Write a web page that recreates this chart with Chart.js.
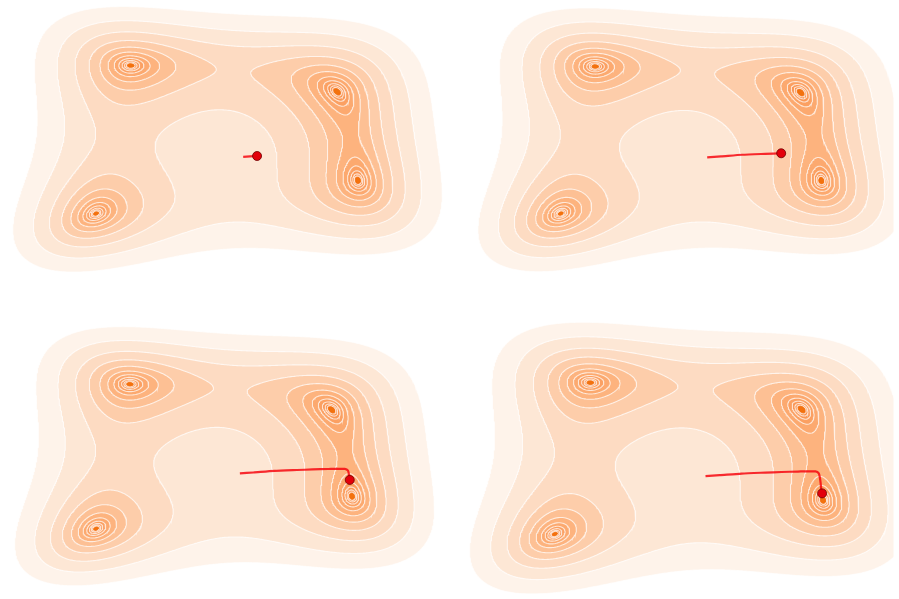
<!DOCTYPE html>
<html>
<head>
<meta charset="utf-8">
<title>Gradient descent on the Himmelblau surface</title>
<script src="https://cdn.jsdelivr.net/npm/chart.js@4.4.1/dist/chart.umd.min.js"></script>
<style>
  html, body { margin: 0; padding: 0; background: #ffffff; }
  #stage { position: relative; width: 899px; height: 599px; overflow: hidden; }
  .panel { position: absolute; }
</style>
</head>
<body>
<div id="stage">
  <div class="panel" style="left:0px;top:0px;width:460px;height:300px"><canvas id="panel-0"></canvas></div>
  <div class="panel" style="left:455px;top:0px;width:444px;height:300px"><canvas id="panel-1"></canvas></div>
  <div class="panel" style="left:0px;top:300px;width:460px;height:299px"><canvas id="panel-2"></canvas></div>
  <div class="panel" style="left:455px;top:300px;width:444px;height:299px"><canvas id="panel-3"></canvas></div>
</div>
<script>
// Contour levels of the surface (powers of two)
const levels = [0.25, 0.5, 1, 2, 4, 8, 16, 32, 64, 128, 256, 512];

// Optimiser path (red), same run shown at four moments
const pathX = [0.36, 0.75, 1.35, 2.0, 2.45, 2.9, 3.38, 3.47, 3.50, 3.52, 3.54, 3.56];
const pathY = [-0.83, -0.79, -0.72, -0.68, -0.655, -0.635, -0.63, -0.71, -0.90, -1.12, -1.42, -1.56];
const pathEnd = [1, 4, 9, 11];

// Axis ranges of each panel
const xMin = [-6.323, -6.609, -6.381, -6.367];
const xMax = [6.301, 5.623, 6.533, 5.521];
const yMin = [-6.791, -6.815, -6.161, -5.799];
const yMax = [5.730, 5.790, 6.623, 6.395];

// Band fill colours, index matches levels (region below that level)
const bandColors = [
  '#f3720f', '#f8863a', '#f98f4a', '#fa9756', '#fba062', '#fca96f',
  '#fdb37e', '#fdc094', '#fdcdaa', '#fddbc2', '#fde7d5', '#fef3ea'
];
const contourLine = 'rgba(255, 255, 255, 0.72)';

// Himmelblau function
function surface(x, y) {
  const a = x * x + y - 11;
  const b = x + y * y - 7;
  return a * a + b * b;
}

// 1. Sample sqrt(f) on a grid (sqrt keeps the wells close to linear)
const GRID_N = 351, GRID_LO = -7, GRID_HI = 7;
const GRID_STEP = (GRID_HI - GRID_LO) / (GRID_N - 1);
const gridValues = new Float64Array(GRID_N * GRID_N);
for (let j = 0; j < GRID_N; j++) {
  for (let i = 0; i < GRID_N; i++) {
    gridValues[j * GRID_N + i] = Math.sqrt(surface(GRID_LO + i * GRID_STEP, GRID_LO + j * GRID_STEP));
  }
}

// 2. Marching squares, chained into closed loops
function traceLevel(level) {
  const n = GRID_N, v = gridValues, t = Math.sqrt(level);
  const size = 2 * n * n;
  const nb1 = new Int32Array(size).fill(-1);
  const nb2 = new Int32Array(size).fill(-1);
  const px = new Float64Array(size);
  const py = new Float64Array(size);

  const link = (e1, e2) => {
    if (nb1[e1] < 0) nb1[e1] = e2; else nb2[e1] = e2;
    if (nb1[e2] < 0) nb1[e2] = e1; else nb2[e2] = e1;
  };
  const hEdge = (i, j) => {
    const k = (j * n + i) * 2;
    const a = v[j * n + i], b = v[j * n + i + 1];
    px[k] = GRID_LO + GRID_STEP * (i + (t - a) / (b - a));
    py[k] = GRID_LO + GRID_STEP * j;
    return k;
  };
  const vEdge = (i, j) => {
    const k = (j * n + i) * 2 + 1;
    const a = v[j * n + i], b = v[(j + 1) * n + i];
    px[k] = GRID_LO + GRID_STEP * i;
    py[k] = GRID_LO + GRID_STEP * (j + (t - a) / (b - a));
    return k;
  };

  for (let j = 0; j < n - 1; j++) {
    for (let i = 0; i < n - 1; i++) {
      const a = v[j * n + i], b = v[j * n + i + 1];
      const c = v[(j + 1) * n + i + 1], d = v[(j + 1) * n + i];
      const ia = a < t, ib = b < t, ic = c < t, id = d < t;
      if (ia === ib && ib === ic && ic === id) continue;
      const cross = [];
      if (ia !== ib) cross.push(hEdge(i, j));
      if (ib !== ic) cross.push(vEdge(i + 1, j));
      if (ic !== id) cross.push(hEdge(i, j + 1));
      if (id !== ia) cross.push(vEdge(i, j));
      if (cross.length === 2) {
        link(cross[0], cross[1]);
      } else if (cross.length === 4) {
        const centerIn = (a + b + c + d) / 4 < t;
        if (ia === centerIn) { link(cross[0], cross[1]); link(cross[2], cross[3]); }
        else { link(cross[0], cross[3]); link(cross[1], cross[2]); }
      }
    }
  }

  const visited = new Uint8Array(size);
  const loops = [];
  for (let e = 0; e < size; e++) {
    if (nb1[e] < 0 || visited[e]) continue;
    const loop = [];
    let prev = -1, cur = e;
    while (cur >= 0 && !visited[cur]) {
      visited[cur] = 1;
      loop.push({ x: px[cur], y: py[cur] });
      const next = nb1[cur] !== prev ? nb1[cur] : nb2[cur];
      prev = cur;
      cur = next;
    }
    if (loop.length > 2) {
      loop.push({ x: loop[0].x, y: loop[0].y });
      loops.push(loop);
    }
  }
  return loops;
}

const levelLoops = levels.map(traceLevel);

// 3. Build datasets for one panel
function buildDatasets(panel) {
  const datasets = [];
  for (let k = levels.length - 1; k >= 0; k--) {
    levelLoops[k].forEach(loop => {
      datasets.push({
        data: loop,
        fill: 'shape',
        backgroundColor: bandColors[k],
        borderColor: k === 0 ? bandColors[0] : contourLine,
        borderWidth: k === 0 ? 0.5 : 1.1,
        pointRadius: 0,
        tension: 0,
        order: k + 1
      });
    });
  }

  const last = pathEnd[panel];
  const path = [];
  for (let i = 0; i <= last; i++) path.push({ x: pathX[i], y: pathY[i] });
  datasets.push({
    data: path,
    fill: false,
    borderColor: 'rgba(245, 0, 10, 0.82)',
    borderWidth: 2.2,
    tension: 0.2,
    pointRadius: ctx => (ctx.dataIndex === last ? 4.5 : 0),
    pointBackgroundColor: '#e3000b',
    pointBorderColor: 'rgba(110, 0, 0, 0.8)',
    pointBorderWidth: 1,
    order: 0
  });
  return datasets;
}

// 4. Draw the four panels
function initPanels() {
  for (let p = 0; p < 4; p++) {
    const canvas = document.getElementById('panel-' + p);
    new Chart(canvas.getContext('2d'), {
      type: 'line',
      data: { datasets: buildDatasets(p) },
      options: {
        responsive: true,
        maintainAspectRatio: false,
        animation: false,
        events: [],
        layout: { padding: 0 },
        plugins: { legend: { display: false }, tooltip: { enabled: false } },
        scales: {
          x: { type: 'linear', display: false, min: xMin[p], max: xMax[p] },
          y: { type: 'linear', display: false, min: yMin[p], max: yMax[p] }
        }
      }
    });
  }
}

initPanels();
</script>
</body>
</html>
